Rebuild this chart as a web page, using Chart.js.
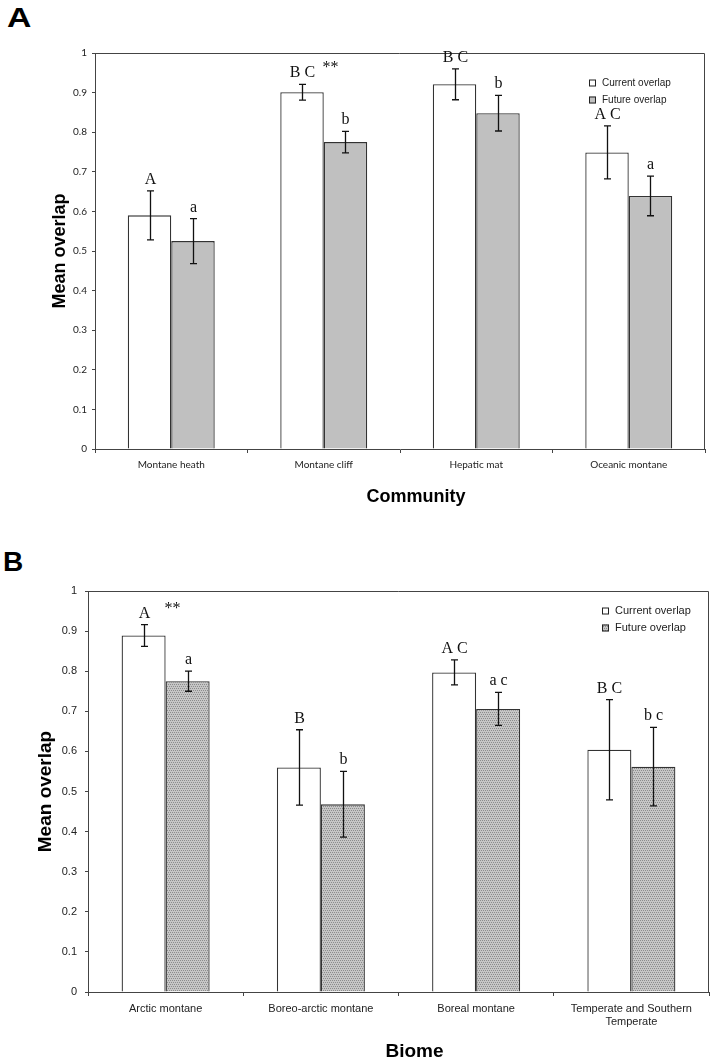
<!DOCTYPE html>
<html>
<head>
<meta charset="utf-8">
<script src="https://cdn.jsdelivr.net/npm/chart.js@4.4.0/dist/chart.umd.min.js"></script>
<style>
  body { margin: 0; background: #fff; width: 713px; height: 1062px; position: relative; overflow: hidden; }
  .panel { position: absolute; left: 0; }
  .tag { position: absolute; font-family: "Liberation Sans", Arial, sans-serif; font-weight: bold; line-height: 1; color: #000; transform-origin: left top; }
</style>
</head>
<body>
<div class="tag" style="left:7px;top:5px;font-size:27px;transform:scaleX(1.25)">A</div>
<div class="tag" style="left:3px;top:548px;font-size:28px">B</div>
<div class="panel" style="top:0"><canvas id="chartA" width="713" height="520"></canvas></div>
<div class="panel" style="top:520px"><canvas id="chartB" width="713" height="542"></canvas></div>
<script>
// ---- panel A : community ----
const communities = ['Montane heath', 'Montane cliff', 'Hepatic mat', 'Oceanic montane'];
const commCurrent = [0.590, 0.901, 0.921, 0.749];
const commCurrentErr = [0.062, 0.020, 0.039, 0.067];
const commFuture = [0.525, 0.775, 0.848, 0.639];
const commFutureErr = [0.057, 0.027, 0.045, 0.050];
const commCurrentLetters = ['A', 'B C', 'B C', 'A C'];
const commFutureLetters = ['a', 'b', 'b', 'a'];
const commStars = ['', '**', '', ''];

// ---- panel B : biome ----
const biomes = ['Arctic montane', 'Boreo-arctic montane', 'Boreal montane', ['Temperate and Southern', 'Temperate']];
const biomeCurrent = [0.889, 0.560, 0.797, 0.604];
const biomeCurrentErr = [0.027, 0.094, 0.031, 0.125];
const biomeFuture = [0.775, 0.468, 0.706, 0.562];
const biomeFutureErr = [0.025, 0.082, 0.041, 0.098];
const biomeCurrentLetters = ['A', 'B', 'A C', 'B C'];
const biomeFutureLetters = ['a', 'b', 'a c', 'b c'];
const biomeStars = ['**', '', '', ''];

const seriesNames = ['Current overlap', 'Future overlap'];
const yTickLabels = ['0', '0.1', '0.2', '0.3', '0.4', '0.5', '0.6', '0.7', '0.8', '0.9', '1'];

function stipple() {
    const c = document.createElement('canvas');
    c.width = 4; c.height = 4;
    const g = c.getContext('2d');
    g.fillStyle = '#c6c6c6';
    g.fillRect(0, 0, 4, 4);
    g.fillStyle = '#8c8c8c';
    [[0, 0], [2, 0], [1, 2], [3, 2]].forEach(([a, b]) => g.fillRect(a, b, 1, 1));
    return g.createPattern(c, 'repeat');
}

// error bars, letters, legend, x title and the box frame
const overlay = {
    id: 'overlay',
    afterDatasetsDraw(chart, args, o) {
        const { ctx, chartArea: { left, right, top, bottom }, scales: { y } } = chart;
        ctx.save();
        ctx.strokeStyle = '#444';
        ctx.lineWidth = 1;
        ctx.beginPath();
        ctx.moveTo(left, top + 0.5);
        ctx.lineTo(right - 0.5, top + 0.5);
        ctx.lineTo(right - 0.5, bottom);
        ctx.stroke();

        chart.data.datasets.forEach((ds, i) => {
            chart.getDatasetMeta(i).data.forEach((bar, j) => {
                const v = ds.data[j], e = ds.err[j];
                const yHi = y.getPixelForValue(v + e), yLo = y.getPixelForValue(v - e);
                const x = Math.round(bar.x) + 0.5;
                ctx.strokeStyle = '#111';
                ctx.lineWidth = 1.3;
                ctx.beginPath();
                ctx.moveTo(x, yHi); ctx.lineTo(x, yLo);
                ctx.moveTo(x - o.cap, yHi); ctx.lineTo(x + o.cap, yHi);
                ctx.moveTo(x - o.cap, yLo); ctx.lineTo(x + o.cap, yLo);
                ctx.stroke();

                ctx.fillStyle = '#111';
                ctx.font = '16px "Liberation Serif", "Times New Roman", serif';
                ctx.textAlign = 'center';
                ctx.textBaseline = 'alphabetic';
                ctx.fillText(ds.letters[j], x, yHi - o.gap);
                if (ds.stars && ds.stars[j])
                    ctx.fillText(ds.stars[j], x + 28, yHi - o.gap - 5);
            });
        });

        // legend inside the plot
        ctx.font = o.legendFont;
        ctx.textAlign = 'left';
        ctx.textBaseline = 'middle';
        chart.data.datasets.forEach((ds, i) => {
            const bx = right - o.legendDx, cy = top + o.legendRows[i];
            ctx.fillStyle = ds.backgroundColor;
            ctx.fillRect(bx, cy - o.box / 2, o.box, o.box);
            ctx.strokeStyle = '#222';
            ctx.lineWidth = 1;
            ctx.strokeRect(bx + 0.5, cy - o.box / 2 + 0.5, o.box - 1, o.box - 1);
            ctx.fillStyle = '#222';
            ctx.fillText(ds.label, bx + o.box + 6, cy);
        });

        // x axis title, a little right of the plot centre as in the original
        ctx.font = o.titleFont;
        ctx.textAlign = 'center';
        ctx.fillStyle = '#000';
        ctx.fillText(o.xTitle, (left + right) / 2 + o.titleDx, chart.height - o.titleUp);
        ctx.restore();
    }
};

function makeChart(id, cfg) {
    const tickFont = { family: cfg.tickFamily, size: cfg.tickSize };
    const titleFont = { family: '"Liberation Sans", Arial, sans-serif', size: cfg.titleSize, weight: 'bold' };
    cfg.overlay.titleFont = 'bold ' + cfg.titleSize + 'px "Liberation Sans", Arial, sans-serif';
    return new Chart(document.getElementById(id), {
        type: 'bar',
        data: {
            labels: cfg.labels,
            datasets: [
                {
                    label: seriesNames[0], data: cfg.current, err: cfg.currentErr,
                    letters: cfg.currentLetters, stars: cfg.stars,
                    backgroundColor: '#ffffff', borderColor: '#333', borderWidth: 1.3,
                    categoryPercentage: cfg.catPct, barPercentage: 1
                },
                {
                    label: seriesNames[1], data: cfg.future, err: cfg.futureErr,
                    letters: cfg.futureLetters,
                    backgroundColor: cfg.futureFill, borderColor: '#333', borderWidth: 1.3,
                    categoryPercentage: cfg.catPct, barPercentage: 1
                }
            ]
        },
        options: {
            responsive: false,
            devicePixelRatio: 1,
            animation: false,
            layout: { padding: { top: cfg.padTop, right: cfg.padRight, left: 0, bottom: 0 } },
            plugins: {
                legend: { display: false },
                tooltip: { enabled: false },
                overlay: cfg.overlay
            },
            scales: {
                x: {
                    ticks: { font: tickFont, color: '#222', padding: 6, maxRotation: 0, autoSkip: false },
                    grid: { drawOnChartArea: false, tickLength: 4, color: '#444', offset: true },
                    border: { color: '#444', width: 1 },
                    afterFit(s) { s.height = cfg.xHeight; }
                },
                y: {
                    min: 0, max: 1,
                    ticks: {
                        stepSize: 0.1, font: tickFont, color: '#222', padding: cfg.yTickPad,
                        callback: (v, i) => yTickLabels[i]
                    },
                    grid: { drawOnChartArea: false, tickLength: 3, color: '#444' },
                    border: { color: '#444', width: 1 },
                    title: { display: true, text: 'Mean overlap', font: titleFont, color: '#000', padding: { top: cfg.yTitlePad, bottom: 0 } },
                    afterFit(s) { s.width = cfg.yWidth; }
                }
            }
        },
        plugins: [overlay]
    });
}

makeChart('chartA', {
    labels: communities,
    current: commCurrent, currentErr: commCurrentErr, currentLetters: commCurrentLetters,
    future: commFuture, futureErr: commFutureErr, futureLetters: commFutureLetters,
    stars: commStars,
    futureFill: '#c0c0c0',
    catPct: 0.57,
    tickFamily: 'Lato, "Noto Sans", sans-serif', tickSize: 10,
    titleSize: 18, xHeight: 71,
    yTitlePad: 49, yWidth: 95, yTickPad: 5,
    padTop: 53, padRight: 8,
    overlay: { cap: 3.5, gap: 7, legendDx: 116, legendRows: [30, 47], box: 7, legendFont: '10px "Liberation Sans", Arial, sans-serif',
               xTitle: 'Community', titleDx: 16, titleUp: 23 }
});

makeChart('chartB', {
    labels: biomes,
    current: biomeCurrent, currentErr: biomeCurrentErr, currentLetters: biomeCurrentLetters,
    future: biomeFuture, futureErr: biomeFutureErr, futureLetters: biomeFutureLetters,
    stars: biomeStars,
    futureFill: stipple(),
    catPct: 0.567,
    tickFamily: '"Liberation Sans", Arial, sans-serif', tickSize: 11,
    titleSize: 19, xHeight: 70,
    yTitlePad: 34, yWidth: 88, yTickPad: 8,
    padTop: 71, padRight: 4,
    overlay: { cap: 3.5, gap: 7, legendDx: 107, legendRows: [20, 37], box: 7, legendFont: '11px "Liberation Sans", Arial, sans-serif',
               xTitle: 'Biome', titleDx: 16, titleUp: 10 }
});
</script>
</body>
</html>
